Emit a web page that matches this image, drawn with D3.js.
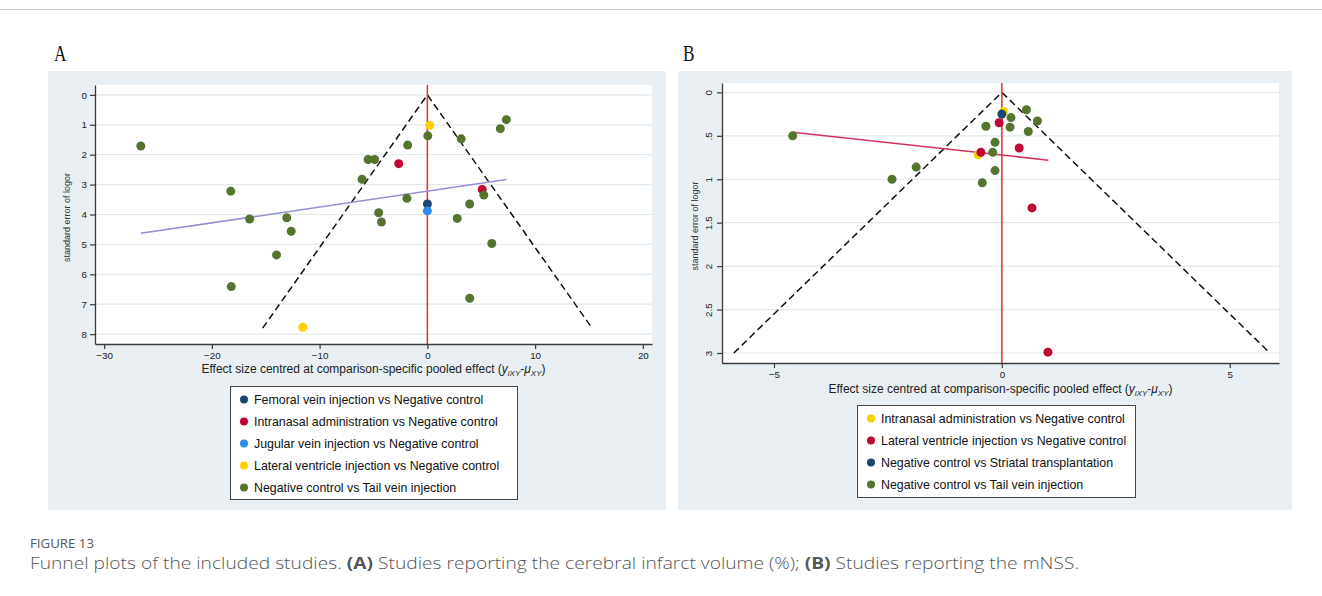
<!DOCTYPE html>
<html>
<head>
<meta charset="utf-8">
<script src="https://cdn.jsdelivr.net/npm/d3@7"></script>
<style>
  body { margin: 0; background: #fff; }
  svg { display: block; }
  text { font-family: "Liberation Sans", Arial, sans-serif; }
</style>
</head>
<body>
<svg id="chart" width="1322" height="596"></svg>
<script>
// ---- panel A : cerebral infarct volume ----
const aFemoral    = [[0, 3.65]];
const aIntranasal = [[-2.66, 2.30], [5.09, 3.16]];
const aJugular    = [[0, 3.88]];
const aLateral    = [[0.22, 1.02], [-11.56, 7.77]];
const aTail = [
  [-26.6, 1.71], [-18.25, 3.22], [-18.2, 6.41], [-16.5, 4.15], [-13.05, 4.11],
  [-12.64, 4.56], [-14.0, 5.35], [-6.06, 2.82], [-5.5, 2.16], [-4.9, 2.16],
  [-4.52, 3.94], [-4.26, 4.25], [-1.83, 1.68], [-1.9, 3.46], [0.04, 1.37],
  [3.14, 1.47], [7.33, 0.83], [6.77, 1.13], [5.24, 3.35], [3.93, 3.65],
  [2.77, 4.13], [5.98, 4.97], [3.93, 6.80]
];
const aRegLine = [[-26.6, 4.63], [7.33, 2.83]];
const aFunnelMax = 7.8;
const aXTicks = [-30, -20, -10, 0, 10, 20];
const aYTicks = [0, 1, 2, 3, 4, 5, 6, 7, 8];
const aLegend = [
  "Femoral vein injection vs Negative control",
  "Intranasal administration vs Negative control",
  "Jugular vein injection vs Negative control",
  "Lateral ventricle injection vs Negative control",
  "Negative control vs Tail vein injection"
];

// ---- panel B : mNSS ----
const bIntranasal = [[0.04, 0.22], [-0.52, 0.72]];
const bLateral    = [[-0.06, 0.35], [-0.46, 0.69], [0.38, 0.64], [0.66, 1.33], [1.01, 2.99]];
const bStriatal   = [[0, 0.25]];
const bTail = [
  [-4.59, 0.50], [-2.41, 1.00], [-1.88, 0.86], [-0.35, 0.39], [-0.43, 1.04],
  [-0.15, 0.575], [-0.20, 0.69], [-0.15, 0.90], [0.20, 0.29], [0.18, 0.40],
  [0.54, 0.20], [0.78, 0.33], [0.58, 0.45]
];
const bRegLine = [[-4.59, 0.46], [1.02, 0.78]];
const bFunnelMax = 3.0;
const bXTicks = [-5, 0, 5];
const bYTicks = [0, 0.5, 1, 1.5, 2, 2.5, 3];
const bLegend = [
  "Intranasal administration vs Negative control",
  "Lateral ventricle injection vs Negative control",
  "Negative control vs Striatal transplantation",
  "Negative control vs Tail vein injection"
];

const navy = "#1a476f", cranberry = "#c10534", sky = "#2b8cf2",
      gold = "#fcd000", olive = "#55752f";

const svg = d3.select("#chart");

// top rule
svg.append("line").attr("x1", 0).attr("x2", 1322).attr("y1", 9.5).attr("y2", 9.5)
  .attr("stroke", "#c8c8c8").attr("stroke-width", 1);

function drawPanel(o) {
  const g = svg.append("g");
  const x = d3.scaleLinear().domain(o.xDomain).range(o.xRange);
  const y = d3.scaleLinear().domain(o.yDomain).range(o.yRange);

  g.append("rect")
    .attr("x", o.box[0]).attr("y", o.box[1])
    .attr("width", o.box[2]).attr("height", o.box[3])
    .attr("fill", "#e9eff2");

  g.append("rect")
    .attr("x", o.xRange[0]).attr("y", o.yRange[0])
    .attr("width", o.xRange[1] - o.xRange[0])
    .attr("height", o.yRange[1] - o.yRange[0])
    .attr("fill", "#fff");

  // grid
  g.append("g").selectAll("line")
    .data(o.yTicks)
    .enter().append("line")
    .attr("x1", o.xRange[0]).attr("x2", o.xRange[1])
    .attr("y1", d => y(d)).attr("y2", d => y(d))
    .attr("stroke", "#e2eaed").attr("stroke-width", 1.2);

  const line = d3.line().x(d => x(d[0])).y(d => y(d[1]));

  // pseudo 95% CI funnel
  const fm = o.funnelMax;
  g.append("path")
    .datum([[-1.96 * fm, fm], [0, 0], [1.96 * fm, fm]])
    .attr("d", line)
    .attr("fill", "none")
    .attr("stroke", "#111")
    .attr("stroke-width", 1.5)
    .attr("stroke-dasharray", "7,4");

  // zero line
  g.append("line")
    .attr("x1", x(0)).attr("x2", x(0))
    .attr("y1", o.yRange[0]).attr("y2", o.yRange[1])
    .attr("stroke", "#e0312f").attr("stroke-width", 1.5);

  // adjusted regression line
  g.append("path")
    .datum(o.regLine)
    .attr("d", line)
    .attr("fill", "none")
    .attr("stroke", o.regColor)
    .attr("stroke-width", 1.5);

  // markers, in legend order
  o.series.forEach(s => {
    g.append("g").selectAll("circle")
      .data(s.data)
      .enter().append("circle")
      .attr("cx", d => x(d[0]))
      .attr("cy", d => y(d[1]))
      .attr("r", 4.5)
      .attr("fill", s.color);
  });

  // axes
  const xAxis = g.append("g")
    .attr("transform", `translate(0,${o.yRange[1]})`)
    .call(d3.axisBottom(x).tickValues(o.xTicks).tickSize(5).tickSizeOuter(0));
  const yAxis = g.append("g")
    .attr("transform", `translate(${o.xRange[0]},0)`)
    .call(d3.axisLeft(y).tickValues(o.yTicks).tickSize(5).tickSizeOuter(0)
      .tickFormat(d => String(d).replace(/^0\./, ".")));

  [xAxis, yAxis].forEach(a => {
    a.select(".domain").attr("stroke", "#3a3a3a").attr("stroke-width", 1.3);
    a.selectAll(".tick line").attr("stroke", "#3a3a3a").attr("stroke-width", 1.2);
    a.selectAll(".tick text")
      .attr("fill", "#222")
      .style("font-size", "9.8px")
      .style("font-family", "'Liberation Sans', Arial, sans-serif");
  });
  xAxis.selectAll(".tick text").attr("y", 8);

  if (o.rotateY) {
    yAxis.selectAll(".tick text")
      .attr("x", null).attr("dy", null)
      .attr("text-anchor", "middle")
      .attr("transform", "translate(-10,0) rotate(-90)")
      .attr("y", 0);
  } else {
    yAxis.selectAll(".tick text").attr("x", -8);
  }

  // axis titles
  g.append("text")
    .attr("transform", `translate(${o.yTitleX},${(o.yRange[0] + o.yRange[1]) / 2 + 3}) rotate(-90)`)
    .attr("text-anchor", "middle")
    .attr("fill", "#333")
    .style("font-size", "9px")
    .text("standard error of logor");

  const xt = g.append("text")
    .attr("x", (o.xRange[0] + o.xRange[1]) / 2)
    .attr("y", o.xTitleY)
    .attr("text-anchor", "middle")
    .attr("fill", "#222")
    .style("font-size", "12px");
  xt.append("tspan").text("Effect size centred at comparison-specific pooled effect (");
  xt.append("tspan").style("font-style", "italic").text("y");
  xt.append("tspan").style("font-style", "italic").style("font-size", "8px")
    .attr("dy", 3).text("iXY");
  xt.append("tspan").attr("dy", -3).text("-");
  xt.append("tspan").style("font-style", "italic").text("\u03bc");
  xt.append("tspan").style("font-style", "italic").style("font-size", "8px")
    .attr("dy", 3).text("XY");
  xt.append("tspan").attr("dy", -3).text(")");

  // legend
  const lg = g.append("g");
  lg.append("rect")
    .attr("x", o.legendBox[0] + 0.5).attr("y", o.legendBox[1] + 0.5)
    .attr("width", o.legendBox[2]).attr("height", o.legendBox[3])
    .attr("fill", "#fff").attr("stroke", "#444").attr("stroke-width", 1);
  const items = lg.selectAll("g.item")
    .data(o.series)
    .enter().append("g")
    .attr("class", "item")
    .attr("transform", (d, i) => `translate(${o.legendBox[0] + 14},${o.legendBox[1] + 13.5 + i * 22})`);
  items.append("circle").attr("r", 4).attr("fill", d => d.color);
  items.append("text")
    .attr("x", 10).attr("dy", "0.36em")
    .attr("fill", "#111")
    .style("font-size", "12.4px")
    .text(d => d.name);

  // panel letter
  svg.append("text")
    .attr("transform", `translate(${o.letterX},61) scale(0.75,1)`)
    .style("font-family", "'Liberation Serif', 'Times New Roman', serif")
    .style("font-size", "23px")
    .attr("fill", "#111")
    .text(o.letter);
}

drawPanel({
  letter: "A", letterX: 54,
  box: [48, 71, 618, 439],
  xDomain: [-30.85, 20.85], xRange: [95, 652],
  yDomain: [-0.33, 8.33], yRange: [85, 344],
  xTicks: aXTicks, yTicks: aYTicks,
  funnelMax: aFunnelMax, regLine: aRegLine, regColor: "#968fd6",
  yTitleX: 70, xTitleY: 373,
  legendBox: [230, 386, 287, 113],
  series: [
    { name: aLegend[0], color: navy, data: aFemoral },
    { name: aLegend[1], color: cranberry, data: aIntranasal },
    { name: aLegend[2], color: sky, data: aJugular },
    { name: aLegend[3], color: gold, data: aLateral },
    { name: aLegend[4], color: olive, data: aTail }
  ]
});

drawPanel({
  letter: "B", letterX: 683,
  box: [678, 71, 614, 439],
  xDomain: [-6.14, 6.08], xRange: [722, 1279],
  yDomain: [-0.108, 3.115], yRange: [83, 363],
  xTicks: bXTicks, yTicks: bYTicks, rotateY: true,
  funnelMax: bFunnelMax, regLine: bRegLine, regColor: "#d2335c",
  yTitleX: 698, xTitleY: 393,
  legendBox: [857, 405, 278, 92],
  series: [
    { name: bLegend[0], color: gold, data: bIntranasal },
    { name: bLegend[1], color: cranberry, data: bLateral },
    { name: bLegend[2], color: navy, data: bStriatal },
    { name: bLegend[3], color: olive, data: bTail }
  ]
});

// caption
svg.append("text")
  .attr("x", 30).attr("y", 548)
  .attr("fill", "#555")
  .style("font-family", "'Open Sans', 'Noto Sans', sans-serif")
  .style("font-size", "12px")
  .attr("textLength", 64).attr("lengthAdjust", "spacingAndGlyphs")
  .text("FIGURE 13");

const cap = svg.append("text")
  .attr("x", 30).attr("y", 569)
  .attr("fill", "#555")
  .style("font-family", "'Open Sans', 'Noto Sans', sans-serif")
  .style("font-size", "15.5px")
  .style("font-weight", 300)
  .attr("textLength", 1049).attr("lengthAdjust", "spacingAndGlyphs");
cap.append("tspan").text("Funnel plots of the included studies. ");
cap.append("tspan").style("font-weight", 700).text("(A)");
cap.append("tspan").text(" Studies reporting the cerebral infarct volume (%); ");
cap.append("tspan").style("font-weight", 700).text("(B)");
cap.append("tspan").text(" Studies reporting the mNSS.");
</script>
</body>
</html>
